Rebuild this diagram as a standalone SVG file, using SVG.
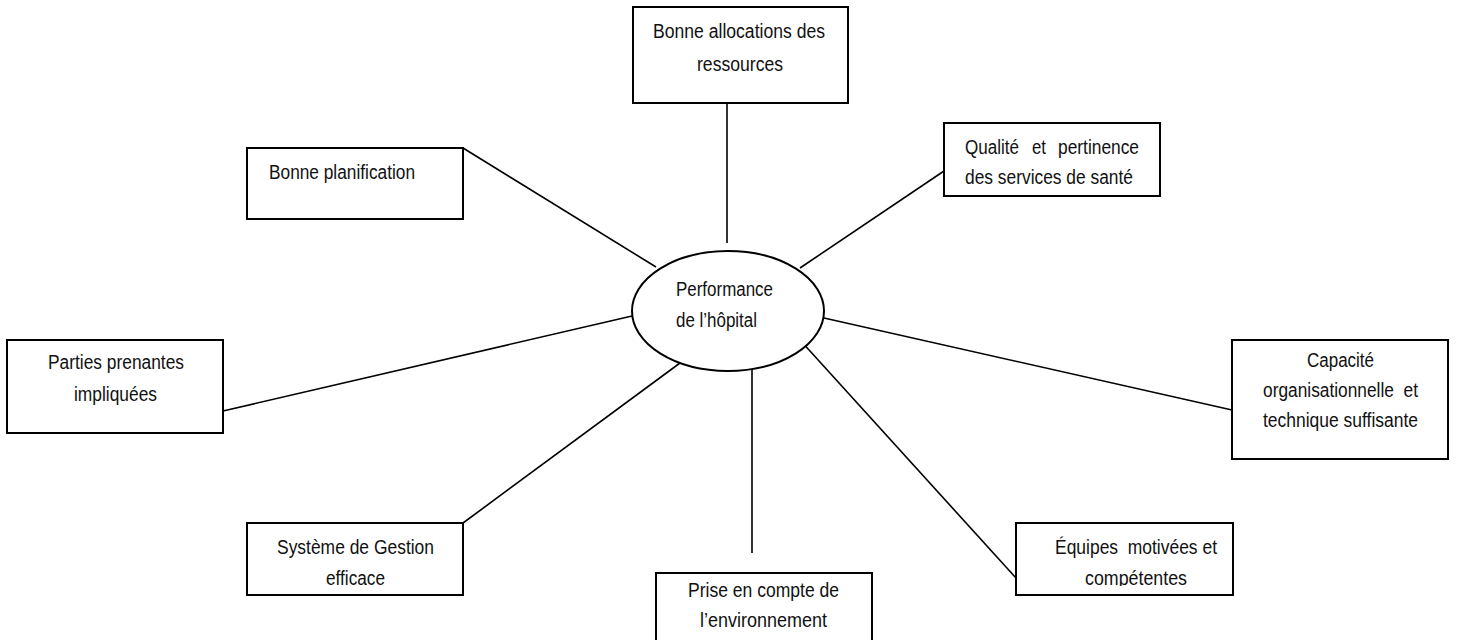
<svg xmlns="http://www.w3.org/2000/svg" width="1457" height="640" viewBox="0 0 1457 640">
  <style>
    .box { fill: #ffffff; stroke: #000000; stroke-width: 2; }
    .hub { fill: #ffffff; stroke: #000000; stroke-width: 2; }
    .link { stroke: #000000; stroke-width: 1.6; fill: none; }
    .lbl { font-family: "Liberation Sans", Arial, sans-serif; font-size: 19.5px; fill: #111111; }
    .pre { white-space: pre; }
  </style>
  <defs>
    <clipPath id="clipEquipes">
      <rect x="1016" y="523" width="217" height="63"/>
    </clipPath>
  </defs>
  <rect width="1457" height="640" fill="#ffffff"/>

  <!-- spokes from the central ellipse to each factor -->
  <g id="connectors">
    <line class="link" x1="727" y1="103" x2="727" y2="243"/>
    <line class="link" x1="463" y1="148" x2="656" y2="267"/>
    <line class="link" x1="944" y1="171" x2="800" y2="268"/>
    <line class="link" x1="223" y1="411" x2="632" y2="316"/>
    <line class="link" x1="824" y1="318" x2="1232" y2="410"/>
    <line class="link" x1="463" y1="523" x2="680" y2="363"/>
    <line class="link" x1="752" y1="363" x2="752" y2="553"/>
    <line class="link" x1="800" y1="340" x2="1016" y2="578"/>
  </g>

  <g id="hub">
    <ellipse class="hub" cx="728" cy="311" rx="96" ry="60"/>
    <text class="lbl" x="676" y="296" textLength="97" lengthAdjust="spacingAndGlyphs">Performance</text>
    <text class="lbl" x="676" y="327" textLength="81" lengthAdjust="spacingAndGlyphs">de l’hôpital</text>
  </g>

  <g id="allocations">
    <rect class="box" x="633" y="7" width="215" height="96"/>
    <text class="lbl" x="653" y="38" textLength="172" lengthAdjust="spacingAndGlyphs">Bonne allocations des</text>
    <text class="lbl" x="697" y="71" textLength="86" lengthAdjust="spacingAndGlyphs">ressources</text>
  </g>

  <g id="planification">
    <rect class="box" x="247" y="148" width="216" height="71"/>
    <text class="lbl" x="269" y="179" textLength="146" lengthAdjust="spacingAndGlyphs">Bonne planification</text>
  </g>

  <g id="qualite">
    <rect class="box" x="944" y="123" width="216" height="73"/>
    <text class="lbl" x="965" y="154" textLength="54" lengthAdjust="spacingAndGlyphs">Qualité</text>
    <text class="lbl" x="1032" y="154" textLength="14" lengthAdjust="spacingAndGlyphs">et</text>
    <text class="lbl" x="1058" y="154" textLength="81" lengthAdjust="spacingAndGlyphs">pertinence</text>
    <text class="lbl" x="965" y="184" textLength="168" lengthAdjust="spacingAndGlyphs">des services de santé</text>
  </g>

  <g id="parties">
    <rect class="box" x="7" y="340" width="216" height="93"/>
    <text class="lbl" x="48" y="369" textLength="136" lengthAdjust="spacingAndGlyphs">Parties prenantes</text>
    <text class="lbl" x="74" y="401" textLength="83" lengthAdjust="spacingAndGlyphs">impliquées</text>
  </g>

  <g id="capacite">
    <rect class="box" x="1232" y="340" width="216" height="119"/>
    <text class="lbl" x="1307" y="367" textLength="67" lengthAdjust="spacingAndGlyphs">Capacité</text>
    <text class="lbl pre" x="1263" y="397" textLength="155" lengthAdjust="spacingAndGlyphs">organisationnelle  et</text>
    <text class="lbl" x="1263" y="427" textLength="155" lengthAdjust="spacingAndGlyphs">technique suffisante</text>
  </g>

  <g id="gestion">
    <rect class="box" x="247" y="523" width="216" height="72"/>
    <text class="lbl" x="277" y="554" textLength="157" lengthAdjust="spacingAndGlyphs">Système de Gestion</text>
    <text class="lbl" x="326" y="585" textLength="59" lengthAdjust="spacingAndGlyphs">efficace</text>
  </g>

  <g id="environnement">
    <rect class="box" x="656" y="573" width="216" height="80"/>
    <text class="lbl" x="688" y="597" textLength="151" lengthAdjust="spacingAndGlyphs">Prise en compte de</text>
    <text class="lbl" x="700" y="627" textLength="127" lengthAdjust="spacingAndGlyphs">l’environnement</text>
  </g>

  <g id="equipes">
    <rect class="box" x="1016" y="523" width="217" height="72"/>
    <text class="lbl pre" x="1055" y="554" textLength="162" lengthAdjust="spacingAndGlyphs">Équipes  motivées et</text>
    <text class="lbl" x="1085" y="585" textLength="102" lengthAdjust="spacingAndGlyphs" clip-path="url(#clipEquipes)">compétentes</text>
  </g>
</svg>
